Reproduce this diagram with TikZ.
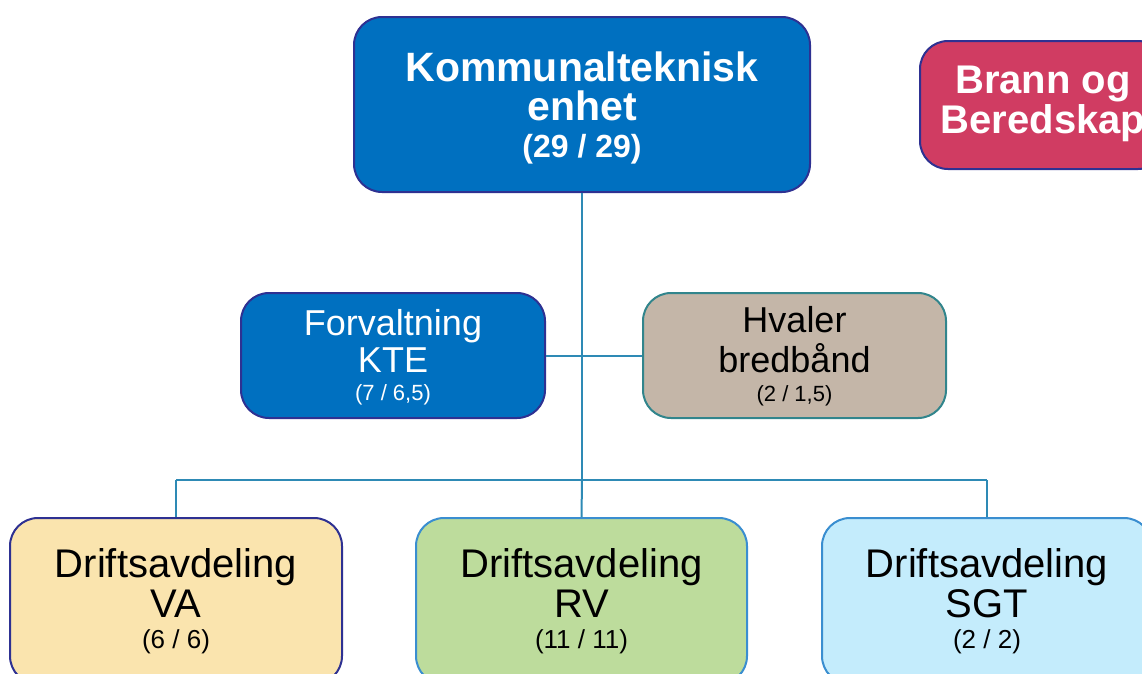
\documentclass[tikz,border=0pt]{standalone}
\usepackage{fontspec}
\setmainfont{Liberation Sans}
\definecolor{bluefill}{RGB}{0,112,192}
\definecolor{navy}{RGB}{46,49,146}
\definecolor{brannfill}{RGB}{208,60,98}
\definecolor{hvalfill}{RGB}{196,182,168}
\definecolor{teal}{RGB}{49,133,140}
\definecolor{vafill}{RGB}{250,228,174}
\definecolor{rvfill}{RGB}{189,220,156}
\definecolor{sgtfill}{RGB}{196,236,252}
\definecolor{lightblueline}{RGB}{58,142,208}
\definecolor{linec}{RGB}{46,138,181}
\begin{document}
\begin{tikzpicture}[x=1pt,y=-1pt,
  box/.style={rounded corners=28pt, line width=2pt, inner sep=0pt},
  txt/.style={anchor=base, inner sep=0pt},
  conn/.style={draw=linec, line width=2pt},
  bigbold/.style={font=\fontsize{41}{41}\bfseries\selectfont, text=white},
  midbold/.style={font=\fontsize{32}{32}\bfseries\selectfont, text=white},
  big/.style={font=\fontsize{36}{36}\selectfont},
  bigger/.style={font=\fontsize{40}{40}\selectfont},
  small/.style={font=\fontsize{22}{22}\selectfont},
  smallb/.style={font=\fontsize{26}{26}\selectfont}]
\useasboundingbox (0,0) rectangle (1142,673);
\clip (0,0) rectangle (1142,673);

% boxes
\node[box, fill=bluefill, draw=navy, minimum width=456pt, minimum height=175pt] (kte) at (582,104.5) {};
\node[box, fill=brannfill, draw=navy, minimum width=246pt, minimum height=128pt] (brann) at (1043,105) {};
\node[box, fill=bluefill, draw=navy, minimum width=304pt, minimum height=125pt] (forv) at (393,355.5) {};
\node[box, fill=hvalfill, draw=teal, minimum width=303pt, minimum height=125pt] (hval) at (794.5,355.5) {};
\node[box, fill=vafill, draw=navy, minimum width=332pt, minimum height=166pt] (va) at (176,601) {};
\node[box, fill=rvfill, draw=lightblueline, minimum width=331pt, minimum height=166pt] (rv) at (581.5,601) {};
\node[box, fill=sgtfill, draw=lightblueline, minimum width=330pt, minimum height=166pt] (sgt) at (987,601) {};

% connectors
\coordinate (jc) at (582,480);
\coordinate (jl) at (176,480);
\coordinate (jr) at (987,480);
\draw[conn] (kte.south) -- (jc);
\draw[conn] (forv.east) -- (hval.west);
\draw[conn] (jl) -- (jr);
\draw[conn] (jl) -- (va.north);
\draw[conn] (jc) -- (rv.north);
\draw[conn] (jr) -- (sgt.north);

% texts
\node[txt, bigbold] (kte1) at (582,81.7) {Kommunalteknisk};
\node[txt, bigbold] (kte2) at (582,120) {enhet};
\node[txt, midbold] (kte3) at (582,157) {(29 / 29)};

\node[txt, bigbold, font=\fontsize{40}{40}\bfseries\selectfont] (br1) at (1043,93.3) {Brann og};
\node[txt, bigbold, font=\fontsize{40}{40}\bfseries\selectfont] (br2) at (1043,133.3) {Beredskap};

\node[txt, big, text=white] (fo1) at (393,335) {Forvaltning};
\node[txt, big, text=white] (fo2) at (393,372.7) {KTE};
\node[txt, small, text=white] (fo3) at (393,400) {(7 / 6,5)};

\node[txt, big] (hv1) at (794.5,332) {Hvaler};
\node[txt, big] (hv2) at (794.5,372) {bredbånd};
\node[txt, small] (hv3) at (794.5,401.5) {(2 / 1,5)};

\node[txt, bigger] (va1) at (176,577) {Driftsavdeling};
\node[txt, bigger] (va2) at (176,617) {VA};
\node[txt, smallb] (va3) at (176,648) {(6 / 6)};

\node[txt, bigger] (rv1) at (581.5,577) {Driftsavdeling};
\node[txt, bigger] (rv2) at (581.5,617) {RV};
\node[txt, smallb] (rv3) at (581.5,648) {(11 / 11)};

\node[txt, bigger] (sg1) at (987,577) {Driftsavdeling};
\node[txt, bigger] (sg2) at (987,617) {SGT};
\node[txt, smallb] (sg3) at (987,648) {(2 / 2)};
\end{tikzpicture}
\end{document}
